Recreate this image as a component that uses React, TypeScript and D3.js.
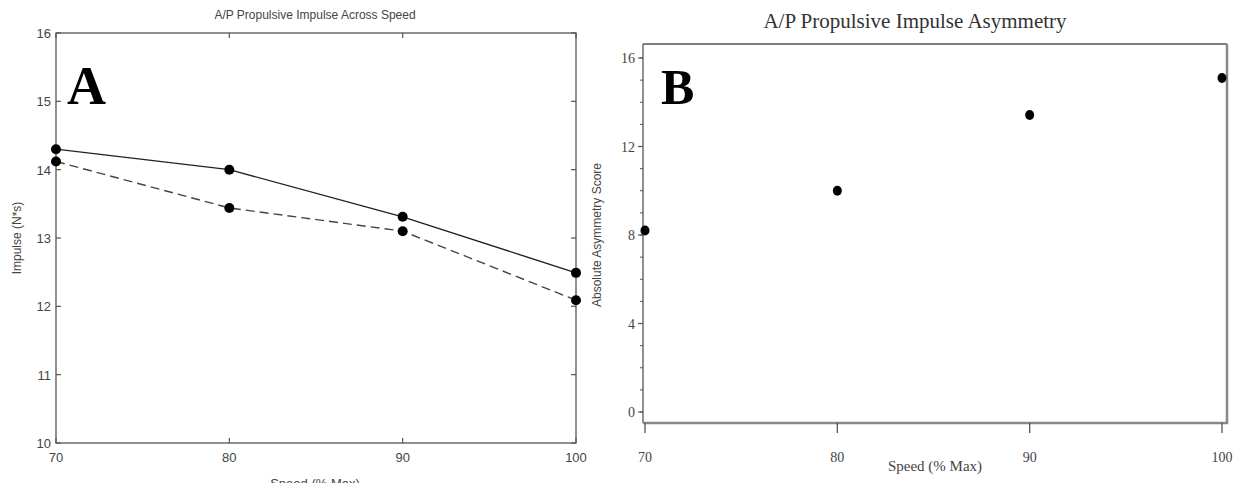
import React from "react";
import * as d3 from "d3";

const speeds = [70, 80, 90, 100];
const impulseSolid = [14.3, 14.0, 13.31, 12.49];
const impulseDashed = [14.12, 13.44, 13.1, 12.09];
const asymmetry = [8.2, 10.0, 13.42, 15.1];
const yTicksA = [10, 11, 12, 13, 14, 15, 16];
const yTicksB = [0, 4, 8, 12, 16];
const yMinorB = d3.range(0, 17, 1);

const W = 1249;
const H = 483;

export default function App() {
  const xA = d3.scaleLinear().domain([70, 100]).range([56, 576]);
  const yA = d3.scaleLinear().domain([10, 16]).range([443, 33]);
  const xB = d3.scaleLinear().domain([70, 100]).range([645, 1222]);
  const yB = d3.scaleLinear().domain([0, 16]).range([412, 58]);

  const lineA = d3
    .line<number>()
    .x((_, i) => xA(speeds[i]))
    .y((d) => yA(d));

  const axisCol = "#555";
  const sans = "'Liberation Sans', Arial, sans-serif";
  const serif = "'Liberation Serif', 'Times New Roman', serif";

  return (
    <div style={{ position: "fixed", left: 0, top: 0 }}>
      <svg width={W} height={H} style={{ display: "block", background: "#fff" }}>
        {/* ---------- Panel A ---------- */}
        <text x={315} y={19} textAnchor="middle" fontFamily={sans} fontSize={12} fill="#444">
          A/P Propulsive Impulse Across Speed
        </text>
        <rect
          x={xA(70)}
          y={yA(16)}
          width={xA(100) - xA(70)}
          height={yA(10) - yA(16)}
          fill="none"
          stroke={axisCol}
          strokeWidth={1.3}
        />
        {yTicksA.map((t) => (
          <g key={"ya" + t}>
            <line x1={xA(70)} x2={xA(70) + 5} y1={yA(t)} y2={yA(t)} stroke={axisCol} strokeWidth={1.2} />
            <line x1={xA(100)} x2={xA(100) - 5} y1={yA(t)} y2={yA(t)} stroke={axisCol} strokeWidth={1.2} />
            <text x={xA(70) - 5} y={yA(t) + 5} textAnchor="end" fontFamily={sans} fontSize={13} fill="#444">
              {t}
            </text>
          </g>
        ))}
        {speeds.map((s) => (
          <g key={"xa" + s}>
            <line x1={xA(s)} x2={xA(s)} y1={yA(10)} y2={yA(10) - 5} stroke={axisCol} strokeWidth={1.2} />
            <line x1={xA(s)} x2={xA(s)} y1={yA(16)} y2={yA(16) + 5} stroke={axisCol} strokeWidth={1.2} />
            <text x={xA(s)} y={yA(10) + 19} textAnchor="middle" fontFamily={sans} fontSize={13} fill="#444">
              {s}
            </text>
          </g>
        ))}
        <text
          transform={`translate(21,${(yA(10) + yA(16)) / 2}) rotate(-90)`}
          textAnchor="middle"
          fontFamily={sans}
          fontSize={12}
          fill="#444"
        >
          Impulse (N*s)
        </text>
        <text x={315} y={488} textAnchor="middle" fontFamily={sans} fontSize={13} fill="#444">
          Speed (% Max)
        </text>
        <path d={lineA(impulseSolid) || ""} fill="none" stroke="#222" strokeWidth={1.4} />
        <path
          d={lineA(impulseDashed) || ""}
          fill="none"
          stroke="#444"
          strokeWidth={1.4}
          strokeDasharray="9,5"
        />
        {impulseSolid.map((v, i) => (
          <circle key={"sa" + i} cx={xA(speeds[i])} cy={yA(v)} r={5} fill="#000" />
        ))}
        {impulseDashed.map((v, i) => (
          <circle key={"da" + i} cx={xA(speeds[i])} cy={yA(v)} r={5} fill="#000" />
        ))}
        <text x={67} y={104} fontFamily={serif} fontWeight="bold" fontSize={54} fill="#000">
          A
        </text>

        {/* ---------- Panel B ---------- */}
        <text x={915} y={28} textAnchor="middle" fontFamily={serif} fontSize={21} fill="#333">
          A/P Propulsive Impulse Asymmetry
        </text>
        <line x1={643} x2={1227} y1={44} y2={44} stroke={axisCol} strokeWidth={1.3} />
        <line x1={643} x2={643} y1={44} y2={423} stroke={axisCol} strokeWidth={1.3} />
        <line x1={1227} x2={1227} y1={44} y2={424} stroke="#888" strokeWidth={2.5} />
        <line x1={643} x2={1228} y1={423} y2={423} stroke="#888" strokeWidth={2.5} />
        {yMinorB.map((t) => (
          <line key={"ymb" + t} x1={640} x2={643} y1={yB(t)} y2={yB(t)} stroke={axisCol} strokeWidth={1} />
        ))}
        {yTicksB.map((t) => (
          <g key={"yb" + t}>
            <line x1={638} x2={643} y1={yB(t)} y2={yB(t)} stroke={axisCol} strokeWidth={1.2} />
            <text x={635} y={yB(t) + 5} textAnchor="end" fontFamily={serif} fontSize={14} fill="#444">
              {t}
            </text>
          </g>
        ))}
        {speeds.map((s) => (
          <g key={"xb" + s}>
            <line x1={xB(s)} x2={xB(s)} y1={423} y2={433} stroke={axisCol} strokeWidth={1.3} />
            <text x={xB(s)} y={462} textAnchor="middle" fontFamily={serif} fontSize={14} fill="#444">
              {s}
            </text>
          </g>
        ))}
        <text
          transform={`translate(601,${(yB(0) + yB(16)) / 2}) rotate(-90)`}
          textAnchor="middle"
          fontFamily={sans}
          fontSize={12}
          fill="#444"
        >
          Absolute Asymmetry Score
        </text>
        <text x={935} y={471} textAnchor="middle" fontFamily={serif} fontSize={15} fill="#444">
          Speed (% Max)
        </text>
        {asymmetry.map((v, i) => (
          <ellipse key={"pb" + i} cx={xB(speeds[i])} cy={yB(v)} rx={4.5} ry={5} fill="#000" />
        ))}
        <text x={661} y={104} fontFamily={serif} fontWeight="bold" fontSize={50} fill="#000">
          B
        </text>
      </svg>
    </div>
  );
}
